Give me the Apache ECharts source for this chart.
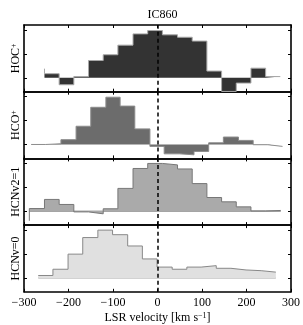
<!DOCTYPE html>
<html><head><meta charset="utf-8">
<script src="https://cdn.jsdelivr.net/npm/echarts@6/dist/echarts.min.js"></script>
<style>html,body{margin:0;padding:0;background:#fff}#c{width:303px;height:325px}</style>
</head><body><div id="c"></div>
<script>
// ---- data ----
const chartTitle = 'IC860';
const xTickValues = [-300, -200, -100, 0, 100, 200, 300];
const yTickValues = [0, 1, 2];

// HOC+ : bin edges (km/s) and bin values
const hocEdges = [-254, -221, -188, -155, -122, -89, -55, -22, 11, 45, 78, 111, 144, 177, 210, 243, 276];
const hocValues = [0.17, -0.29, 0.05, 0.72, 0.96, 1.36, 1.83, 1.97, 1.79, 1.69, 1.53, 0.28, -0.57, -0.22, 0.40, 0.05];
const hocStartValue = 0.38;

// HCO+
const hcoEdges = [-284, -251, -217, -183, -150, -116, -84, -51, -17, 15, 49, 82, 115, 148, 182, 215, 248, 281];
const hcoValues = [0.0, 0.03, 0.2, 0.76, 1.55, 1.97, 1.6, 0.65, -0.08, -0.39, -0.43, -0.29, 0.07, 0.31, 0.17, -0.01, -0.08];

// HCN v2=1
const hcnv2Edges = [-288, -254, -221, -188, -155, -122, -89, -55, -22, 11, 45, 78, 111, 144, 177, 210, 243, 277];
const hcnv2Values = [0.11, 0.49, 0.28, -0.03, -0.11, 0.1, 0.95, 1.78, 1.99, 1.93, 1.76, 1.15, 0.57, 0.39, 0.18, 0.01, 0.03];
const hcnv2StartValue = -0.4;

// HCN v=0
const hcnv0Edges = [-268, -235, -201, -168, -134, -101, -67, -34, -1, 33, 66, 98, 132, 165, 199, 233, 266];
const hcnv0Values = [0.1, 0.36, 0.99, 1.68, 1.99, 1.8, 1.33, 0.79, 0.45, 0.36, 0.45, 0.51, 0.4, 0.33, 0.3, 0.24];

// ---- build ----
const SERIF = 'Liberation Serif, Times New Roman, serif';
const panels = [
  { name: '{m|HOC}{s|+}', edges: hocEdges, values: hocValues, start: hocStartValue, fill: '#333333', line: '#a8a8a8', base: false },
  { name: '{m|HCO}{s|+}', edges: hcoEdges, values: hcoValues, start: null, fill: '#6c6c6c', line: '#8c8c8c', base: false },
  { name: '{m|HCNv2=1}', edges: hcnv2Edges, values: hcnv2Values, start: hcnv2StartValue, fill: '#aaaaaa', line: '#777777', base: true },
  { name: '{m|HCNv=0}', edges: hcnv0Edges, values: hcnv0Values, start: null, fill: '#e0e0e0', line: '#888888', base: true }
];

function stepData(edges, values, start) {
  const pts = [];
  if (start !== null) pts.push([edges[0], start]);
  for (let i = 0; i < values.length; i++) pts.push([edges[i], values[i]]);
  pts.push([edges[edges.length - 1], values[values.length - 1]]);
  return pts;
}

const top0 = 25, ph = 66.7;
const grids = [], xAxes = [], yAxes = [], series = [];
const richName = {
  m: { fontFamily: SERIF, fontSize: 12, color: '#000' },
  s: { fontFamily: SERIF, fontSize: 8, color: '#000', verticalAlign: 'top', lineHeight: 12 }
};

panels.forEach((p, i) => {
  grids.push({ left: 24, right: 12, top: top0 + i * ph, height: ph, containLabel: false, outerBoundsMode: 'none' });
  const last = i === panels.length - 1;
  const xBase = {
    gridIndex: i, type: 'value', min: -300, max: 300, interval: 100,
    axisLine: { show: true, onZero: false, lineStyle: { color: '#000', width: 1.6 } },
    axisTick: { show: true, inside: true, length: 3, lineStyle: { color: '#000', width: 1 } },
    splitLine: { show: false }
  };
  xAxes.push(Object.assign({}, xBase, {
    position: 'bottom',
    axisLabel: {
      show: last, fontFamily: SERIF, fontSize: 12, color: '#000', margin: 5,
      formatter: v => String(v).replace('-', '\u2212')
    },
    name: last ? '{m|LSR velocity [km s}{s|\u22121}{m|]}' : '',
    nameLocation: 'middle', nameGap: 20,
    nameTextStyle: { rich: richName }
  }));
  xAxes.push(Object.assign({}, xBase, { position: 'top', axisLabel: { show: false } }));
  const yBase = {
    gridIndex: i, type: 'value', min: -0.58, max: 2.2,
    axisLine: { show: true, onZero: false, lineStyle: { color: '#000', width: 1.6 } },
    axisTick: { show: true, inside: true, length: 3, customValues: yTickValues, lineStyle: { color: '#000', width: 1 } },
    axisLabel: { show: false },
    splitLine: { show: false }
  };
  yAxes.push(Object.assign({}, yBase, {
    position: 'left', name: p.name, nameLocation: 'middle', nameRotate: 90, nameGap: 2,
    nameTextStyle: { rich: richName }
  }));
  yAxes.push(Object.assign({}, yBase, { position: 'right' }));

  const data = stepData(p.edges, p.values, p.start);
  series.push({
    type: 'line', xAxisIndex: 2 * i, yAxisIndex: 2 * i, step: 'end',
    data: data, showSymbol: false, symbol: 'none', animation: false,
    lineStyle: { color: p.line, width: 1 },
    areaStyle: { color: p.fill, opacity: 1, origin: 0 },
    markLine: {
      silent: true, symbol: 'none', animation: false,
      label: { show: false },
      lineStyle: { color: '#000', type: [4, 3], width: 1.5 },
      data: [{ xAxis: 0 }]
    },
    z: 2
  });
  if (p.base) {
    series.push({
      type: 'line', xAxisIndex: 2 * i, yAxisIndex: 2 * i, showSymbol: false, symbol: 'none', animation: false,
      data: [[p.edges[0], 0], [p.edges[p.edges.length - 1], 0]],
      lineStyle: { color: p.line, width: 1 }, z: 1
    });
  }
});

const chart = echarts.init(document.getElementById('c'), null, { renderer: 'canvas' });
chart.setOption({
  animation: false,
  backgroundColor: '#fff',
  title: {
    text: chartTitle, left: 157.5, textAlign: 'center', top: 4,
    textStyle: { fontFamily: SERIF, fontSize: 12, fontWeight: 'normal', color: '#000' }
  },
  grid: grids, xAxis: xAxes, yAxis: yAxes, series: series
});
</script></body></html>
